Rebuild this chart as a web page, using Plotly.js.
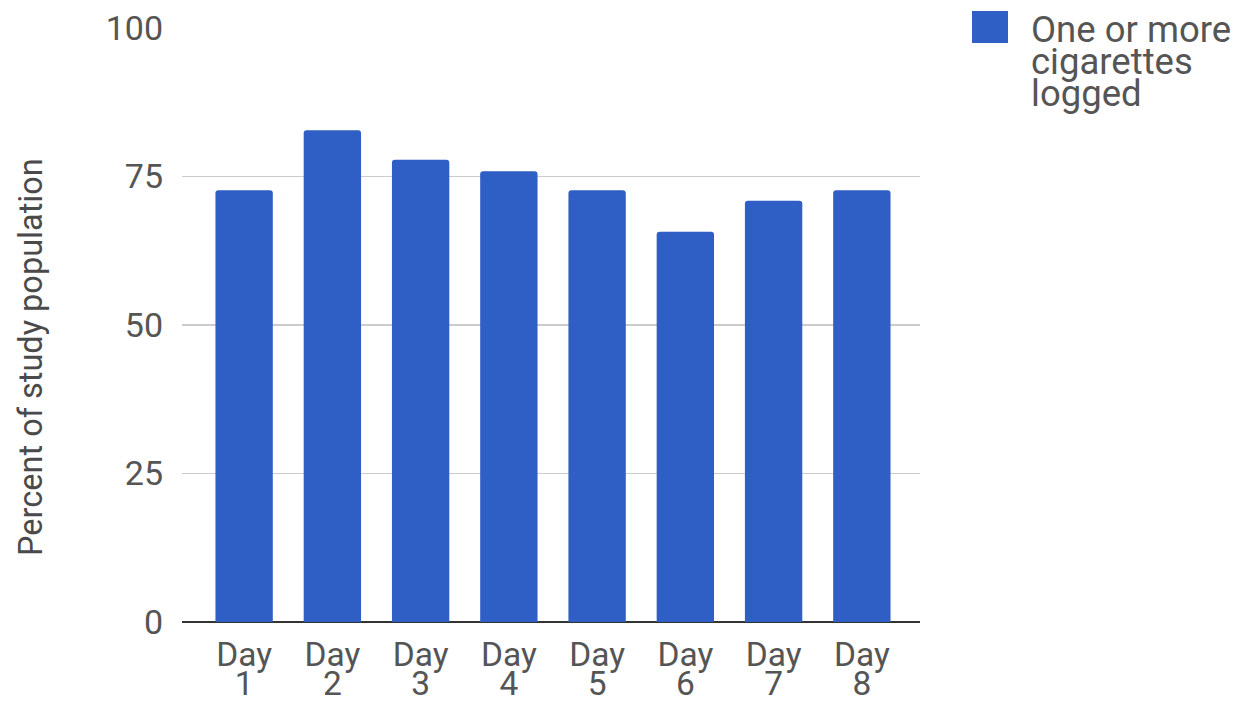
<!DOCTYPE html>
<html>
<head>
<meta charset="utf-8">
<script src="https://cdn.plot.ly/plotly-3.0.1.min.js"></script>
<style>html,body{margin:0;padding:0;background:#fff;}#chart{width:1244px;height:704px;}</style>
</head>
<body>
<div id="chart"></div>
<script>
const categories = ["Day 1", "Day 2", "Day 3", "Day 4", "Day 5", "Day 6", "Day 7", "Day 8"];
const seriesName = "One or more cigarettes logged";
const seriesLines = ["One or more", "cigarettes", "logged"];
const values = [72.7, 82.8, 77.8, 75.9, 72.7, 65.7, 70.9, 72.7];
const yTicks = [0, 25, 50, 75, 100];
const yTitle = "Percent of study population";

const barColor = "#2f5ec5";
const textColor = "#555555";

function big(s, px) { return "<span style=\"font-size:" + px + "px\">" + s + "</span>"; }

const trace = {
  type: "bar",
  x: categories,
  y: values,
  name: seriesName,
  marker: {color: barColor, cornerradius: 3},
  showlegend: false,
  hoverinfo: "x+y"
};

const layout = {
  width: 1244,
  height: 704,
  margin: {l: 182, r: 324, t: 28, b: 82, pad: 0},
  paper_bgcolor: "#fff",
  plot_bgcolor: "#fff",
  font: {family: "Roboto, Arial, sans-serif", color: textColor},
  bargap: 0.35,
  xaxis: {
    type: "category",
    range: [-0.704, 7.659],
    tickvals: categories,
    ticktext: categories.map(c => c.split(" ").map(w => big(w, 33.5)).join("<br>")),
    showgrid: false,
    zeroline: false,
    showline: false,
    ticks: "",
    ticklabelstandoff: 20,
    tickfont: {size: 22.5, color: textColor},
    fixedrange: true
  },
  yaxis: {
    range: [0, 100],
    tickvals: yTicks,
    ticktext: yTicks.map(String),
    showgrid: true,
    gridcolor: "#cccccc",
    gridwidth: 1.5,
    zeroline: true,
    zerolinecolor: "#333333",
    zerolinewidth: 2,
    showline: false,
    ticks: "",
    ticklabelstandoff: 18,
    tickfont: {size: 34, color: textColor},
    fixedrange: true
  },
  shapes: [
    {type: "rect", xref: "paper", yref: "paper",
     x0: (972 - 182) / 738, x1: (1008 - 182) / 738,
     y0: (622 - 43) / 594, y1: (622 - 11) / 594,
     fillcolor: barColor, line: {width: 0}, layer: "above"}
  ],
  annotations: [
    {xref: "paper", yref: "paper", x: (1029 - 182) / 738, y: (622 - 6) / 594,
     xanchor: "left", yanchor: "top", align: "left", showarrow: false,
     text: seriesLines.map(s => big(s, 36.5)).join("<br>"), font: {size: 24.5, color: textColor}},
    {xref: "paper", yref: "paper", x: (31 - 182) / 738, y: (622 - 357) / 594,
     xanchor: "center", yanchor: "middle", textangle: -90, showarrow: false,
     text: yTitle, font: {size: 32.5, color: "#4a4a4a"}}
  ]
};

Plotly.newPlot("chart", [trace], layout, {displayModeBar: false, staticPlot: true});
</script>
</body>
</html>
